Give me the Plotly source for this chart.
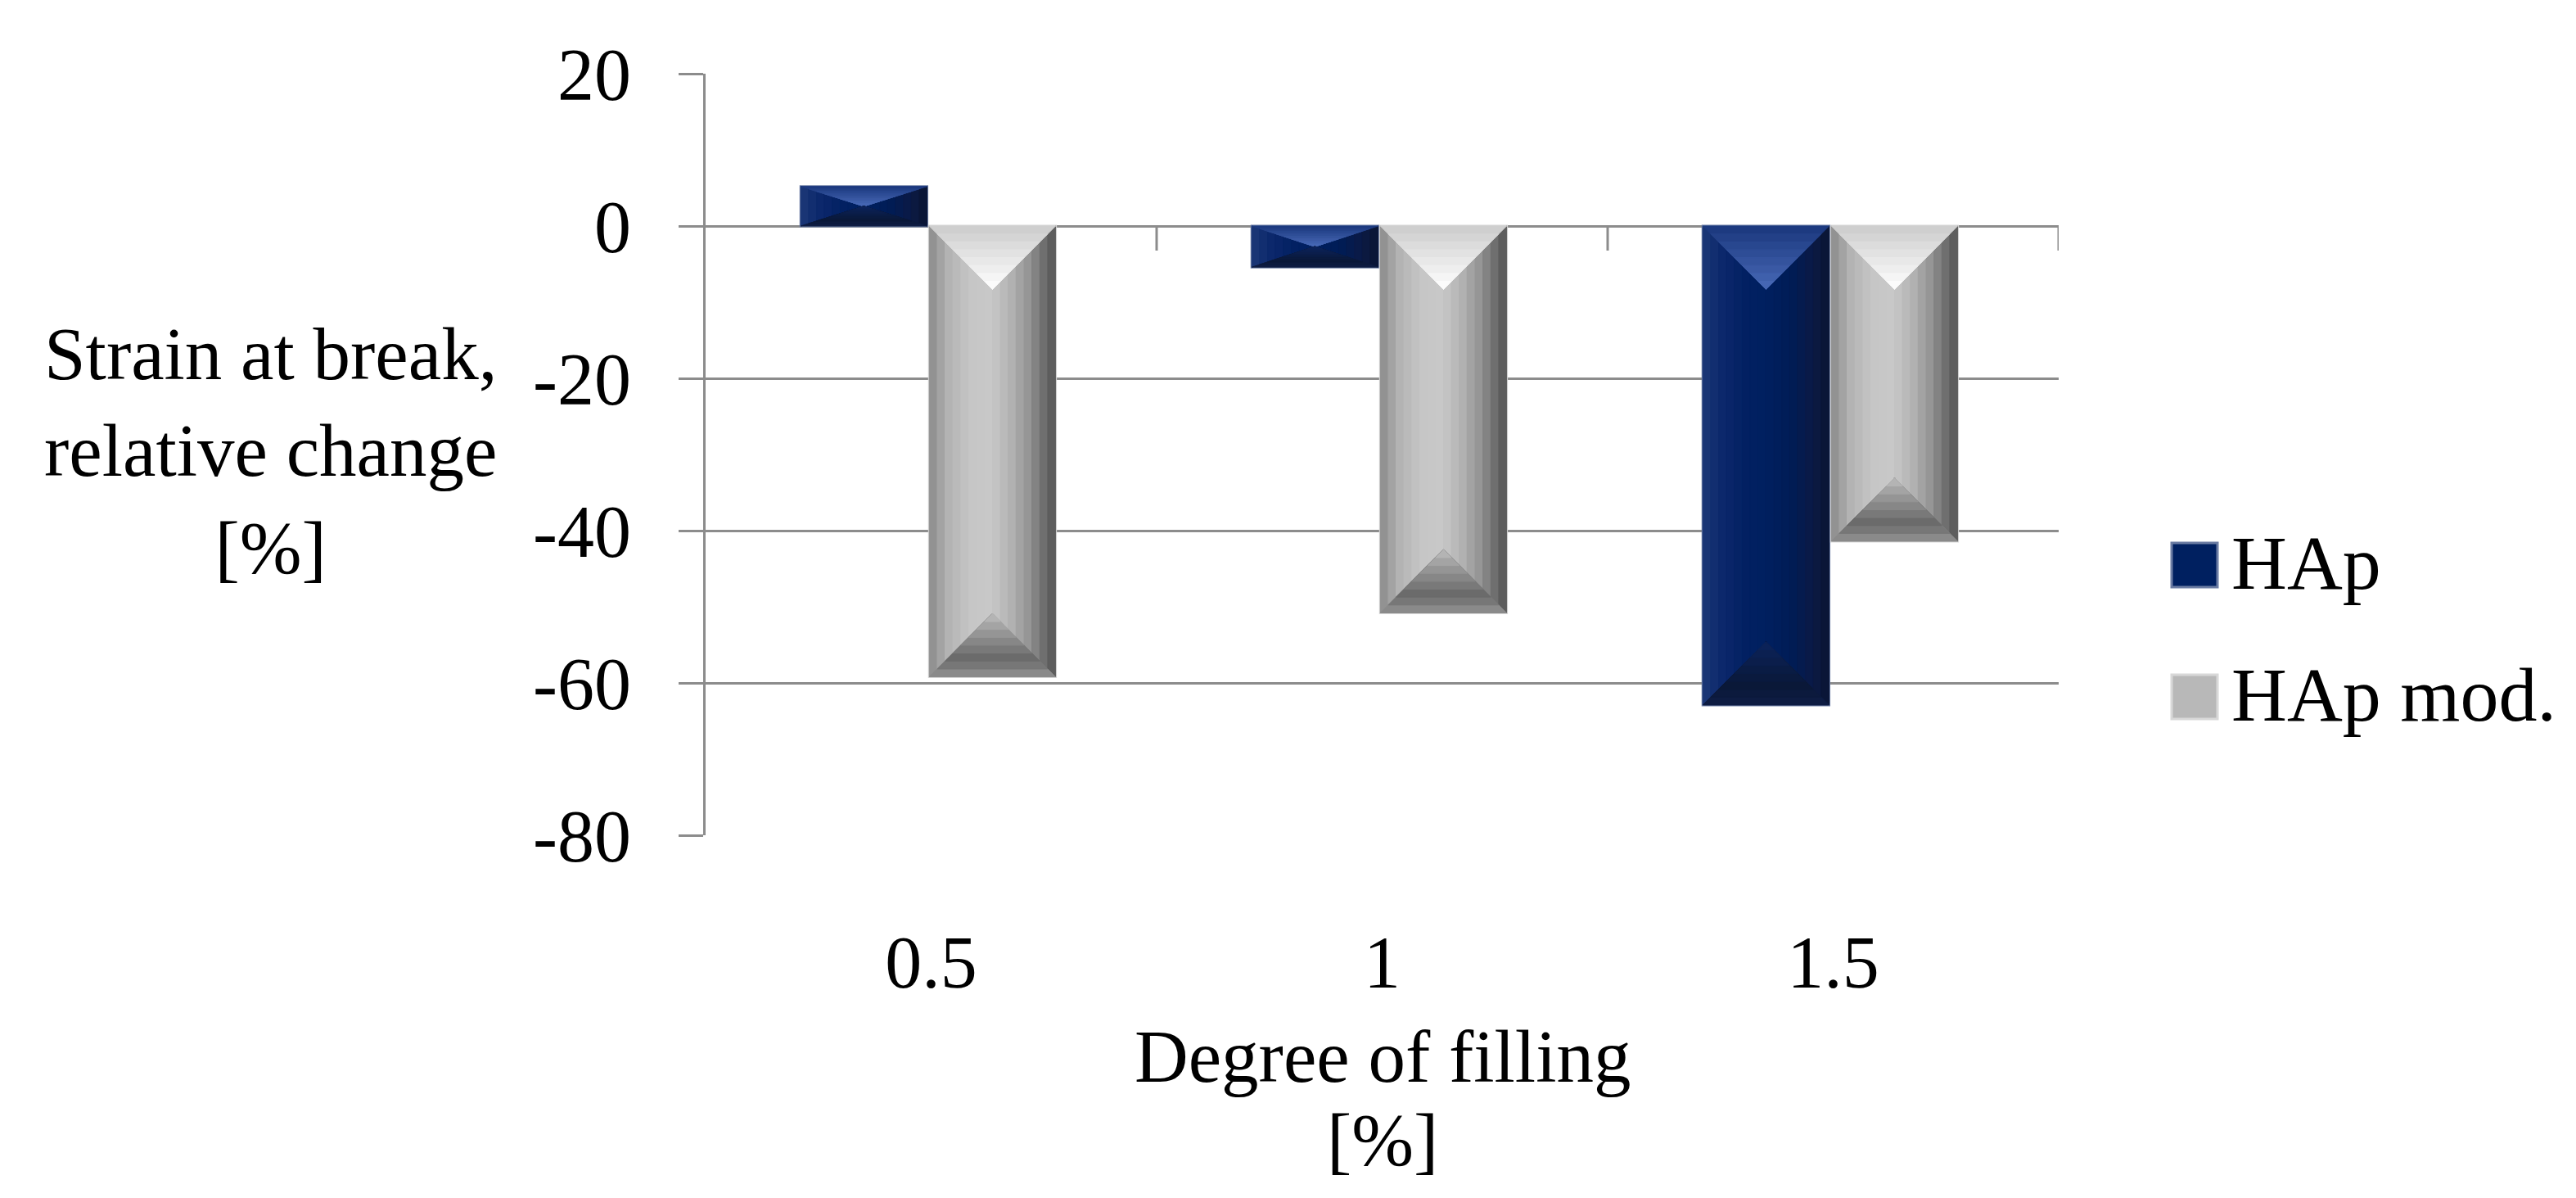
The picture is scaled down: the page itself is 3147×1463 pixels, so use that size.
import numpy as np
import plotly.graph_objects as go

# ---- data ----
categories = ["0.5", "1", "1.5"]
hap = [5.2, -5.4, -62.9]
hap_mod = [-59.2, -50.8, -41.4]
series_names = ["HAp", "HAp mod."]
y_tick_vals = [20, 0, -20, -40, -60, -80]
y_tick_text = ["20", "0", "-20", "-40", "-60", "-80"]

# ---- geometry ----
W, H = 3147, 1463
M_L, M_R, M_T, M_B = 854, 640, 82, 451
plot_w = W - M_L - M_R
plot_h = H - M_T - M_B
y_min, y_max = -80, 20
px_x = plot_w / len(categories)
px_y = plot_h / (y_max - y_min)

bar_w = 0.28
offsets = [-0.289, -0.004]
FONT = "Palatino Linotype, Book Antiqua, Palatino, Liberation Serif, serif"
GRID = "#8c8c8c"


def hex2rgb(h):
    h = h.lstrip("#")
    return np.array([int(h[i:i + 2], 16) for i in (0, 2, 4)], dtype=float)


def ramp(stops, f):
    # stops: list of (pos, hex)
    pos = [p for p, _ in stops]
    cols = [hex2rgb(c) for _, c in stops]
    for i in range(len(pos) - 1):
        if pos[i] <= f <= pos[i + 1]:
            t = (f - pos[i]) / (pos[i + 1] - pos[i])
            c = cols[i] * (1 - t) + cols[i + 1] * t
            return "rgb(%d,%d,%d)" % tuple(c.round())
    c = cols[-1]
    return "rgb(%d,%d,%d)" % tuple(c.round())


styles = {
    "HAp": dict(
        base="#002060", line="#6b7ca3",
        side=[(0, "#1c3877"), (0.15, "#0c286c"), (0.35, "#022062"), (0.5, "#002060"),
              (0.7, "#001c56"), (0.88, "#0b1a44"), (1, "#0a1532")],
        top=[(0, "#1d3a80"), (1, "#4566b3")],
        bottom=[(0, "#0e1c42"), (0.3, "#0a1838"), (1, "#0b2258")],
    ),
    "HAp mod.": dict(
        base="#b8b8b8", line="#d8d8d8",
        side=[(0, "#8a8a8a"), (0.15, "#b2b2b2"), (0.32, "#c6c6c6"), (0.5, "#c8c8c8"),
              (0.65, "#b2b2b2"), (0.8, "#929292"), (0.92, "#6a6a6a"), (1, "#555555")],
        top=[(0, "#cfcfcf"), (1, "#fbfbfb")],
        bottom=[(0, "#8a8a8a"), (0.25, "#686868"), (0.65, "#8e8e8e"), (1, "#b4b4b4")],
    ),
}

fig = go.Figure()
xs = np.arange(len(categories))
all_series = [hap, hap_mod]

# base bars
for name, vals, off in zip(series_names, all_series, offsets):
    st = styles[name]
    fig.add_trace(go.Bar(
        x=xs, y=vals, name=name, width=bar_w, offset=off,
        marker=dict(color=st["base"], line=dict(color=st["line"], width=3)),
        showlegend=False, hoverinfo="skip",
    ))

# bevel shading computed from the same values
n_strip = 16
n_tri = 8
for name, vals, off in zip(series_names, all_series, offsets):
    st = styles[name]
    geo = []
    for xi, v in zip(xs, vals):
        x0 = xi + off
        x1 = x0 + bar_w
        xc = (x0 + x1) / 2
        hw = bar_w / 2
        top, bot = max(0, v), min(0, v)
        d_px = min(0.5 * bar_w * px_x, abs(v) * px_y / 2)
        dd = d_px / px_y
        geo.append((x0, x1, xc, hw, top, bot, dd))

    def g(x, xc, hw, dd):
        return dd * (1 - abs(x - xc) / hw)

    # side stripes
    for i in range(n_strip):
        px_, py_ = [], []
        for x0, x1, xc, hw, top, bot, dd in geo:
            xa = x0 + i * bar_w / n_strip
            xb = x0 + (i + 1) * bar_w / n_strip
            px_ += [xa, xb, xb, xa, xa, None]
            py_ += [top - g(xa, xc, hw, dd), top - g(xb, xc, hw, dd),
                    bot + g(xb, xc, hw, dd), bot + g(xa, xc, hw, dd),
                    top - g(xa, xc, hw, dd), None]
        col = ramp(st["side"], (i + 0.5) / n_strip)
        fig.add_trace(go.Scatter(x=px_, y=py_, mode="lines", fill="toself",
                                 fillcolor=col, line=dict(color=col, width=1),
                                 showlegend=False, hoverinfo="skip"))
    # top and bottom triangles
    for key, sgn in (("top", -1), ("bottom", 1)):
        for k in range(n_tri):
            frac = k / n_tri
            px_, py_ = [], []
            for x0, x1, xc, hw, top, bot, dd in geo:
                edge = top if key == "top" else bot
                yb = edge + sgn * frac * dd
                apex = edge + sgn * dd
                hwk = hw * (1 - frac)
                px_ += [xc - hwk, xc + hwk, xc, xc - hwk, None]
                py_ += [yb, yb, apex, yb, None]
            col = ramp(st[key], k / (n_tri - 1))
            fig.add_trace(go.Scatter(x=px_, y=py_, mode="lines", fill="toself",
                                     fillcolor=col, line=dict(color=col, width=1),
                                     showlegend=False, hoverinfo="skip"))

# category boundary tick marks hanging from the zero line
for b in np.arange(len(categories)) + 0.5:
    fig.add_shape(type="line", xref="x", yref="y", x0=b, x1=b,
                  ysizemode="pixel", yanchor=0, y0=-30, y1=0,
                  line=dict(color=GRID, width=3))


def px_to_paper_x(px):
    return (px - M_L) / plot_w


def px_to_paper_y(py):
    return (M_T + plot_h - py) / plot_h


# custom legend (large squares)
leg_marker_y = [682, 843]
for name, my in zip(series_names, leg_marker_y):
    st = styles[name]
    fig.add_shape(type="rect", xref="paper", yref="paper",
                  xsizemode="pixel", ysizemode="pixel",
                  xanchor=px_to_paper_x(2673), yanchor=px_to_paper_y(my),
                  x0=-28, x1=28, y0=-27, y1=27,
                  fillcolor=st["base"], line=dict(color=st["line"], width=3))
    fig.add_annotation(x=px_to_paper_x(2716), y=px_to_paper_y(my - 3),
                       xref="paper", yref="paper",
                       text=name, showarrow=False, xanchor="left", yanchor="middle",
                       font=dict(size=94, color="#000", family=FONT))

# axis titles
fig.add_annotation(x=px_to_paper_x(322), y=px_to_paper_y(543),
                   xref="paper", yref="paper", showarrow=False,
                   text="Strain at break,<br>relative change<br>[%]",
                   xanchor="center", yanchor="middle", align="center",
                   font=dict(size=91, color="#000", family=FONT))
for line_text, ly in zip(["Degree of filling", "[%]"], [1282, 1384]):
    fig.add_annotation(x=0.5, y=px_to_paper_y(ly),
                       xref="paper", yref="paper", showarrow=False,
                       text=line_text, xanchor="center", yanchor="middle",
                       font=dict(size=91, color="#000", family=FONT))

fig.update_layout(
    width=W, height=H,
    margin=dict(l=M_L, r=M_R, t=M_T, b=M_B),
    barmode="overlay",
    plot_bgcolor="white", paper_bgcolor="white",
    showlegend=False,
    font=dict(family=FONT, size=90, color="#000"),
)
fig.update_xaxes(
    range=[-0.5, len(categories) - 0.5],
    tickvals=xs, ticktext=categories,
    showgrid=False, zeroline=False, showline=False, ticks="",
    ticklabelstandoff=95,
    tickfont=dict(size=90, family=FONT, color="#000"),
)
fig.update_yaxes(
    range=[y_min, y_max],
    tickvals=y_tick_vals, ticktext=y_tick_text,
    showgrid=True, gridcolor=GRID, gridwidth=3,
    zeroline=True, zerolinecolor=GRID, zerolinewidth=3,
    showline=True, linecolor=GRID, linewidth=3,
    ticks="outside", ticklen=30, tickwidth=3, tickcolor=GRID,
    ticklabelstandoff=40,
    tickfont=dict(size=90, family=FONT, color="#000"),
)

fig.write_html("out.html")
